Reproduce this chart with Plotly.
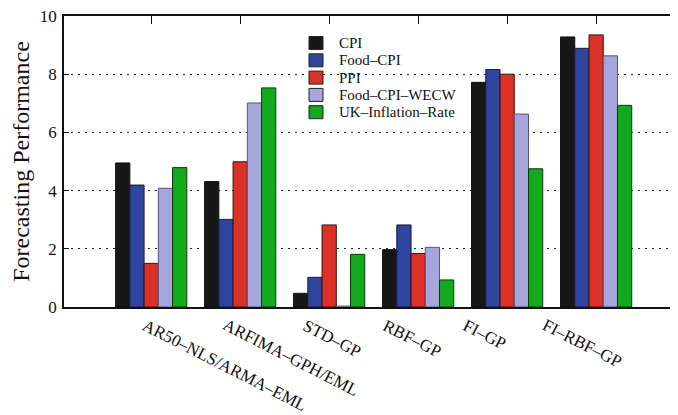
import plotly.graph_objects as go

categories = ["AR50\u2013NLS/ARMA\u2013EML", "ARFIMA\u2013GPH/EML", "STD\u2013GP", "RBF\u2013GP", "FI\u2013GP", "FI\u2013RBF\u2013GP"]
series_names = ["CPI", "Food\u2013CPI", "PPI", "Food\u2013CPI\u2013WECW", "UK\u2013Inflation\u2013Rate"]
cpi = [4.95, 4.31, 0.47, 1.97, 7.72, 9.28]
food_cpi = [4.19, 3.01, 1.02, 2.82, 8.16, 8.89]
ppi = [1.50, 4.99, 2.82, 1.84, 8.00, 9.35]
food_cpi_wecw = [4.08, 7.01, 0.03, 2.05, 6.63, 8.63]
uk_inflation = [4.79, 7.53, 1.81, 0.93, 4.75, 6.93]
y_ticks = [0, 2, 4, 6, 8, 10]

colors = ["#171717", "#2f45a0", "#dc3126", "#a6a5dc", "#12a91c"]
outline = ["#111111", "#1a1a3a", "#3a1010", "#55557a", "#0a3a0a"]
series = [cpi, food_cpi, ppi, food_cpi_wecw, uk_inflation]

FONT = '"Liberation Serif", "Times New Roman", Times, serif'

# page has an 8px body margin; compensate so the plot sits where the reference has it
PAGE_OFF = 8
W, H = 678, 415
PL, PT, PR, PB = 64, 16, 678, 307  # plot area in page pixels

fig = go.Figure()
for name, vals, c, oc in zip(series_names, series, colors, outline):
    fig.add_trace(go.Bar(
        x=categories, y=vals, name=name, showlegend=False,
        marker=dict(color=c, line=dict(color=oc, width=1)),
    ))

n = len(categories)
for i, cat in enumerate(categories):
    fig.add_annotation(
        x=cat, xref="x", y=0, yref="paper",
        text=cat, showarrow=False, textangle=27,
        xanchor="left", yanchor="top",
        xshift=-14 - 9 * i, yshift=-6,
        font=dict(family=FONT, size=17, color="#111"),
    )

# manual legend (compact row spacing like the reference)
def px_to_paper_x(px):
    return (px - PL) / (PR - PL)

def px_to_paper_y(py):
    return (PB - py) / (PB - PT)

row0, row_step = 43, 17.3
for k, (name, c, oc) in enumerate(zip(series_names, colors, outline)):
    cy = row0 + k * row_step
    fig.add_shape(
        type="rect", xref="paper", yref="paper",
        x0=px_to_paper_x(309), x1=px_to_paper_x(323),
        y0=px_to_paper_y(cy + 6.5), y1=px_to_paper_y(cy - 6.5),
        fillcolor=c, line=dict(color="#222", width=1), layer="above",
    )
    fig.add_annotation(
        xref="paper", yref="paper", x=px_to_paper_x(337), y=px_to_paper_y(cy),
        text=name, showarrow=False, xanchor="left", yanchor="middle",
        font=dict(family=FONT, size=15, color="#111"),
    )

fig.update_layout(
    width=W - PAGE_OFF, height=H - PAGE_OFF,
    margin=dict(l=PL - PAGE_OFF, r=W - PR, t=PT - PAGE_OFF, b=H - PB, autoexpand=False),
    paper_bgcolor="white", plot_bgcolor="white",
    barmode="group", bargap=0.2, bargroupgap=0,
    font=dict(family=FONT, size=17, color="#111"),
    showlegend=False,
    xaxis=dict(
        type="category", range=[-0.98, n - 0.08], automargin=False,
        showticklabels=False, ticks="", showline=True, linecolor="#111", linewidth=1.5,
        showgrid=False, zeroline=False,
    ),
    xaxis2=dict(
        overlaying="x", side="top", matches="x", type="category", automargin=False,
        showticklabels=False, ticks="inside", ticklen=8, tickcolor="#111",
        showline=True, linecolor="#111", linewidth=1.5, showgrid=False,
    ),
    yaxis=dict(
        range=[0, 10], tickvals=y_ticks, ticks="inside", ticklen=5, tickcolor="#111",
        showline=True, linecolor="#111", linewidth=1.5, automargin=False,
        showgrid=True, gridcolor="#222", griddash="2px,5px", gridwidth=1,
        zeroline=False, ticklabelstandoff=2, ticklabeloverflow="allow",
        tickfont=dict(family=FONT, size=17, color="#111"),
        title=dict(text="Forecasting Performance", font=dict(family=FONT, size=24, color="#111"), standoff=10),
    ),
)
# empty trace so the top axis renders
fig.add_trace(go.Bar(x=categories, y=[None] * n, xaxis="x2", showlegend=False, hoverinfo="skip"))

fig.write_html("out.html")
